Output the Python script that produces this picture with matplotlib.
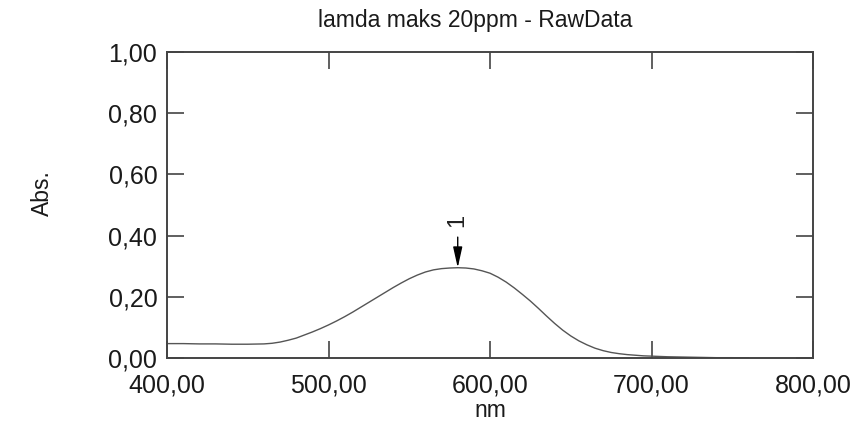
import matplotlib
matplotlib.use("Agg")
import matplotlib.pyplot as plt
from matplotlib.ticker import FuncFormatter

plt.rcParams['font.family'] = ['Liberation Sans', 'DejaVu Sans']

# spectrum (nm, Abs.)
wavelength = [400, 410, 420, 430, 440, 450, 460, 465, 470, 475,
              480, 485, 490, 495, 500, 505, 510, 515, 520, 525,
              530, 535, 540, 545, 550, 555, 560, 565, 570, 575,
              580, 585, 590, 595, 600, 605, 610, 615, 620, 625,
              630, 635, 640, 645, 650, 655, 660, 665, 670, 675,
              680, 685, 690, 695, 700, 710, 720, 730, 740, 750, 760]
absorbance = [0.047, 0.047, 0.046, 0.046, 0.045, 0.045, 0.046, 0.048, 0.052, 0.058,
              0.065, 0.075, 0.085, 0.096, 0.108, 0.121, 0.135, 0.150, 0.166, 0.182,
              0.198, 0.214, 0.230, 0.245, 0.259, 0.271, 0.281, 0.288, 0.292, 0.294,
              0.295, 0.294, 0.291, 0.285, 0.277, 0.264, 0.248, 0.229, 0.208, 0.186,
              0.162, 0.137, 0.113, 0.091, 0.072, 0.056, 0.043, 0.032, 0.024, 0.018,
              0.014, 0.011, 0.009, 0.007, 0.006, 0.004, 0.003, 0.002, 0.001, 0.001, 0.000]

peak_nm = 580
peak_abs = 0.295
peak_label = "1"

x_ticks = [400, 500, 600, 700, 800]
y_ticks = [0.0, 0.2, 0.4, 0.6, 0.8, 1.0]

fig = plt.figure(figsize=(8.5, 4.24), dpi=100)
ax = fig.add_axes([0.1965, 0.1557, 0.76, 0.7217])

ax.plot(wavelength, absorbance, color='#555555', lw=1.0, solid_joinstyle='round')

ax.annotate('', xy=(peak_nm, peak_abs), xytext=(peak_nm, 0.395),
            arrowprops=dict(arrowstyle='-|>,head_length=0.9,head_width=0.2',
                            color='black', lw=1.0, shrinkA=0, shrinkB=0,
                            mutation_scale=14))
ax.text(peak_nm, 0.45, peak_label, rotation=90, ha='center', va='center',
        fontsize=17, color='#222222')

ax.set_xlim(400, 800)
ax.set_ylim(0, 1)
ax.set_xticks(x_ticks)
ax.set_yticks(y_ticks)
comma = FuncFormatter(lambda v, p: f"{v:.2f}".replace('.', ','))
ax.xaxis.set_major_formatter(comma)
ax.yaxis.set_major_formatter(comma)

ax.tick_params(direction='in', length=12, width=1.2, color='#444444',
               top=True, right=True, labelsize=18, labelcolor='#1a1a1a')
ax.tick_params(axis='y', pad=7)
ax.tick_params(axis='x', pad=11)
for s in ax.spines.values():
    s.set_color('#444444')
    s.set_linewidth(1.4)

ax.set_title('lamda maks 20ppm - RawData', fontsize=16.5, pad=18, color='#1a1a1a', x=0.477)
ax.set_xlabel('nm', fontsize=16.5, labelpad=1, color='#1a1a1a')
ax.set_ylabel('Abs.', fontsize=16.5, color='#1a1a1a')
ax.yaxis.set_label_coords(-0.175, 0.54)

fig.savefig('out.png', dpi=100)
